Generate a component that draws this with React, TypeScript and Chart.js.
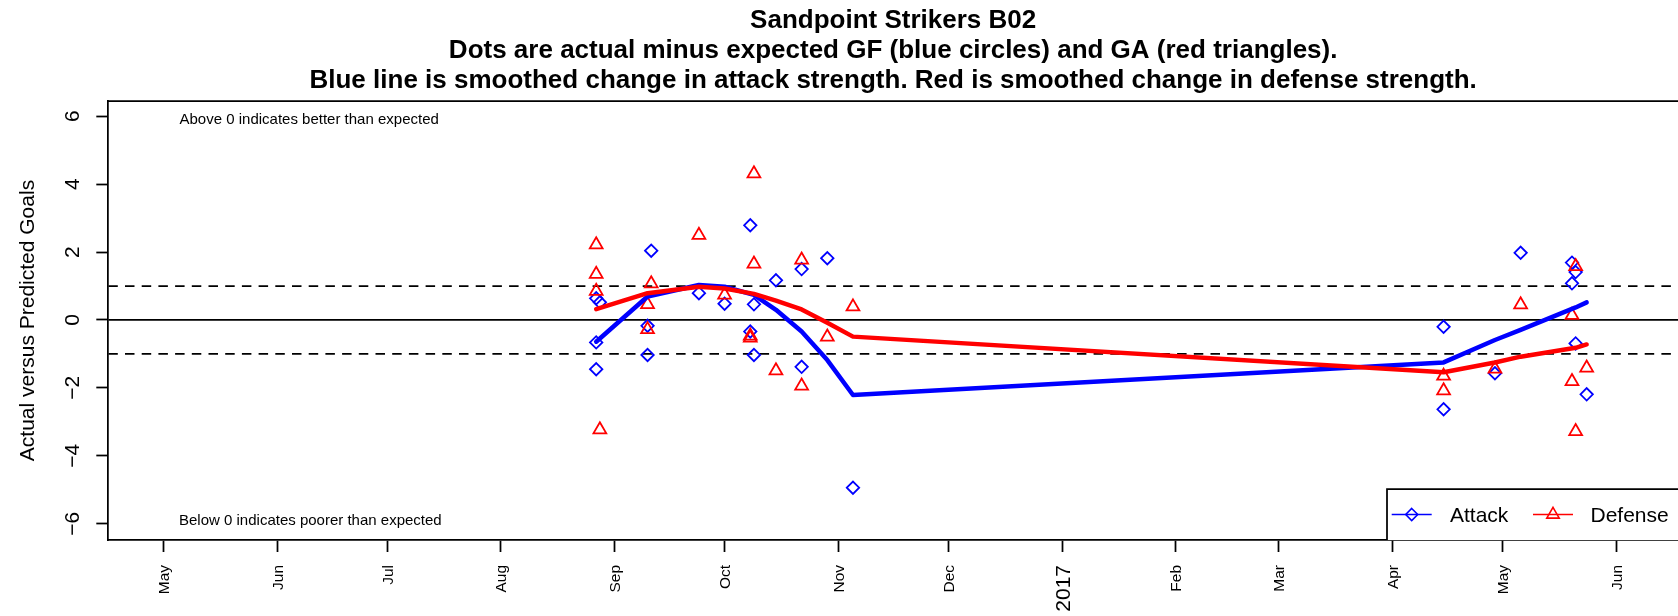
import React, { useEffect, useRef } from 'react';
import { Chart, registerables } from 'chart.js';

Chart.register(...registerables);

// ---------- data ----------
const ORIGIN = '2016-05-01';
const dayOf = (s: string) =>
  (Date.parse(s + 'T00:00:00Z') - Date.parse(ORIGIN + 'T00:00:00Z')) / 86400000;

const titleLines = [
  'Sandpoint Strikers B02',
  'Dots are actual minus expected GF (blue circles) and GA (red triangles).',
  'Blue line is smoothed change in attack strength. Red is smoothed change in defense strength.',
];
const yAxisTitle = 'Actual versus Predicted Goals';
const aboveNote = 'Above 0 indicates better than expected';
const belowNote = 'Below 0 indicates poorer than expected';
const legendLabels = ['Attack', 'Defense'];

const gameDates = [
  '2016-08-27', '2016-08-27', '2016-08-27', '2016-08-28',
  '2016-09-10', '2016-09-10', '2016-09-11', '2016-09-24',
  '2016-10-01', '2016-10-08', '2016-10-08', '2016-10-09',
  '2016-10-09', '2016-10-15', '2016-10-22', '2016-10-22',
  '2016-10-29', '2016-11-05',
  '2017-04-15', '2017-04-15', '2017-04-29', '2017-05-06',
  '2017-05-20', '2017-05-20', '2017-05-21', '2017-05-21',
  '2017-05-24',
];
const attackDiff = [
  0.64, -0.66, -1.45, 0.52,
  -0.17, -1.03, 2.04, 0.79,
  0.48, 2.79, -0.34, 0.46,
  -1.03, 1.17, 1.5, -1.38,
  1.82, -4.94,
  -0.2, -2.63, -1.57, 1.98,
  1.69, 1.08, 1.41, -0.69,
  -2.19,
];
const defenseDiff = [
  2.22, 1.35, 0.85, -3.23,
  0.46, -0.28, 1.07, 2.5,
  0.74, -0.47, -0.53, 4.31,
  1.65, -1.49, 1.77, -1.94,
  -0.5, 0.39,
  -1.65, -2.08, -1.44, 0.45,
  0.14, -1.81, 1.58, -3.28,
  -1.41,
];

const smoothDates = [
  '2016-08-27', '2016-09-10', '2016-09-24', '2016-10-01', '2016-10-09',
  '2016-10-15', '2016-10-22', '2016-10-29', '2016-11-05',
  '2017-04-15', '2017-04-29', '2017-05-06', '2017-05-21', '2017-05-24',
];
const attackSmooth = [-0.64, 0.69, 1.03, 0.98, 0.74, 0.3, -0.34, -1.18, -2.21, -1.25, -0.59, -0.29, 0.37, 0.52];
const defenseSmooth = [0.32, 0.79, 0.98, 0.93, 0.77, 0.57, 0.31, -0.08, -0.49, -1.54, -1.25, -1.08, -0.82, -0.72];

const monthTickDates = [
  '2016-05-01', '2016-06-01', '2016-07-01', '2016-08-01', '2016-09-01',
  '2016-10-01', '2016-11-01', '2016-12-01', '2017-01-01', '2017-02-01',
  '2017-03-01', '2017-04-01', '2017-05-01', '2017-06-01',
];
const monthTickLabels = ['May', 'Jun', 'Jul', 'Aug', 'Sep', 'Oct', 'Nov', 'Dec', '2017', 'Feb', 'Mar', 'Apr', 'May', 'Jun'];
const yTickValues = [-6, -4, -2, 0, 2, 4, 6];
const yTickLabels = ['\u22126', '\u22124', '\u22122', '0', '2', '4', '6'];
const refLevels = [-1, 0, 1];

// ---------- layout / style ----------
const X_MIN = -15;
const X_MAX = 412.9;
const Y_MIN = -6.48;
const Y_MAX = 6.45;
const FONT = '"Liberation Sans", Arial, Helvetica, sans-serif';
const BLUE = '#0000FF';
const RED = '#FF0000';
const LW = 1.75;

function diamond(ctx: CanvasRenderingContext2D, x: number, y: number, r: number) {
  ctx.beginPath();
  ctx.moveTo(x, y - r);
  ctx.lineTo(x + r, y);
  ctx.lineTo(x, y + r);
  ctx.lineTo(x - r, y);
  ctx.closePath();
  ctx.stroke();
}
function triangle(ctx: CanvasRenderingContext2D, x: number, y: number, r: number) {
  ctx.beginPath();
  ctx.moveTo(x, y - r);
  ctx.lineTo(x + r * Math.sin((2 * Math.PI) / 3), y + r / 2);
  ctx.lineTo(x - r * Math.sin((2 * Math.PI) / 3), y + r / 2);
  ctx.closePath();
  ctx.stroke();
}

const decorPlugin = {
  id: 'decor',
  afterDraw(chart: any) {
    const { ctx, chartArea: ca, scales } = chart;
    const xs = scales.x;
    const ys = scales.y;
    ctx.save();
    ctx.strokeStyle = '#000';
    ctx.fillStyle = '#000';
    ctx.lineWidth = LW;
    // top border of box
    ctx.beginPath();
    ctx.moveTo(ca.left - LW / 2, ca.top);
    ctx.lineTo(ca.right + 2, ca.top);
    ctx.stroke();

    // titles
    ctx.font = `bold 26px ${FONT}`;
    ctx.textAlign = 'center';
    ctx.textBaseline = 'alphabetic';
    const cx = (ca.left + ca.right) / 2;
    const baselines = [28, 58, 88];
    titleLines.forEach((t, i) => ctx.fillText(t, cx, baselines[i]));

    // y-axis title
    ctx.save();
    ctx.font = `21px ${FONT}`;
    ctx.translate(34, (ca.top + ca.bottom) / 2);
    ctx.rotate(-Math.PI / 2);
    ctx.textAlign = 'center';
    ctx.fillText(yAxisTitle, 0, 0);
    ctx.restore();

    // y tick labels (rotated, like R las=0)
    ctx.font = `21px ${FONT}`;
    yTickValues.forEach((v, i) => {
      const py = ys.getPixelForValue(v);
      ctx.save();
      ctx.translate(79, py);
      ctx.rotate(-Math.PI / 2);
      ctx.textAlign = 'center';
      ctx.fillText(yTickLabels[i], 0, 0);
      ctx.restore();
    });

    // x tick labels (rotated, las=2)
    monthTickDates.forEach((d, i) => {
      const lab = monthTickLabels[i];
      const size = lab === '2017' ? 21 : 15.5;
      const px = xs.getPixelForValue(dayOf(d));
      ctx.save();
      ctx.font = `${size}px ${FONT}`;
      ctx.translate(px + 0.358 * size, ca.bottom + 25);
      ctx.rotate(-Math.PI / 2);
      ctx.textAlign = 'right';
      ctx.fillText(lab, 0, 0);
      ctx.restore();
    });

    // notes
    ctx.font = `15px ${FONT}`;
    ctx.textAlign = 'left';
    ctx.fillText(aboveNote, 179.5, ys.getPixelForValue(6) + 7.5);
    ctx.fillText(belowNote, 179, ys.getPixelForValue(-6) + 0.8);

    // legend
    const lx = 1387;
    const ly = 489;
    const lb = ca.bottom;
    const mid = (ly + lb) / 2;
    ctx.fillStyle = '#fff';
    ctx.fillRect(lx, ly, ca.right - lx + 5, lb - ly);
    ctx.strokeStyle = '#000';
    ctx.lineWidth = LW;
    ctx.beginPath();
    ctx.moveTo(lx, lb);
    ctx.lineTo(lx, ly);
    ctx.lineTo(ca.right + 5, ly);
    ctx.stroke();

    ctx.lineWidth = 1.6;
    ctx.strokeStyle = BLUE;
    ctx.beginPath();
    ctx.moveTo(1391.7, mid);
    ctx.lineTo(1431.7, mid);
    ctx.stroke();
    diamond(ctx, 1411.7, mid, 6);
    ctx.strokeStyle = RED;
    ctx.beginPath();
    ctx.moveTo(1533, mid);
    ctx.lineTo(1573, mid);
    ctx.stroke();
    triangle(ctx, 1553, mid, 7.2);

    ctx.fillStyle = '#000';
    ctx.font = `21px ${FONT}`;
    ctx.textAlign = 'left';
    ctx.fillText(legendLabels[0], 1450, mid + 7.5);
    ctx.fillText(legendLabels[1], 1590.5, mid + 7.5);

    ctx.restore();
  },
};

export default function App() {
  const ref = useRef<HTMLCanvasElement | null>(null);

  useEffect(() => {
    const canvas = ref.current;
    if (!canvas) return;

    const refSets = refLevels.map((lv) => ({
      label: 'ref' + lv,
      data: [
        { x: X_MIN, y: lv },
        { x: X_MAX, y: lv },
      ],
      showLine: true,
      borderColor: '#000',
      borderWidth: LW,
      borderDash: lv === 0 ? [] : [9.5, 7.2],
      pointRadius: 0,
      order: 10,
    }));

    const chart = new Chart(canvas, {
      type: 'scatter',
      data: {
        datasets: [
          ...refSets,
          {
            label: 'Attack points',
            data: gameDates.map((d, i) => ({ x: dayOf(d), y: attackDiff[i] })),
            pointStyle: 'rectRot',
            pointRadius: 6.2,
            pointBorderWidth: 1.8,
            pointBorderColor: BLUE,
            pointBackgroundColor: 'rgba(0,0,0,0)',
            borderColor: BLUE,
            backgroundColor: 'rgba(0,0,0,0)',
            order: 6,
          },
          {
            label: 'Defense points',
            data: gameDates.map((d, i) => ({ x: dayOf(d), y: defenseDiff[i] })),
            pointStyle: 'triangle',
            pointRadius: 7.4,
            pointBorderWidth: 1.8,
            pointBorderColor: RED,
            pointBackgroundColor: 'rgba(0,0,0,0)',
            borderColor: RED,
            backgroundColor: 'rgba(0,0,0,0)',
            order: 5,
          },
          {
            label: 'Attack',
            data: smoothDates.map((d, i) => ({ x: dayOf(d), y: attackSmooth[i] })),
            showLine: true,
            borderColor: BLUE,
            borderWidth: 4.5,
            borderCapStyle: 'round',
            borderJoinStyle: 'round',
            pointRadius: 0,
            tension: 0,
            order: 2,
          },
          {
            label: 'Defense',
            data: smoothDates.map((d, i) => ({ x: dayOf(d), y: defenseSmooth[i] })),
            showLine: true,
            borderColor: RED,
            borderWidth: 4.5,
            borderCapStyle: 'round',
            borderJoinStyle: 'round',
            pointRadius: 0,
            tension: 0,
            order: 1,
          },
        ] as any,
      },
      options: {
        animation: false,
        responsive: false,
        devicePixelRatio: 1,
        events: [],
        layout: { padding: { top: 101, left: 0, right: 0, bottom: 0 }, autoPadding: false },
        plugins: {
          legend: { display: false },
          title: { display: false },
          tooltip: { enabled: false },
        },
        scales: {
          x: {
            type: 'linear',
            position: 'bottom',
            min: X_MIN,
            max: X_MAX,
            afterBuildTicks: (s: any) => {
              s.ticks = monthTickDates.map((d) => ({ value: dayOf(d) }));
            },
            afterFit: (s: any) => {
              s.height = 76;
            },
            grid: {
              drawOnChartArea: false,
              drawTicks: true,
              tickLength: 12,
              tickWidth: LW,
              tickColor: '#000',
            },
            border: { display: true, color: '#000', width: LW },
            ticks: { display: false },
          },
          y: {
            type: 'linear',
            position: 'left',
            min: Y_MIN,
            max: Y_MAX,
            afterBuildTicks: (s: any) => {
              s.ticks = yTickValues.map((v) => ({ value: v }));
            },
            afterFit: (s: any) => {
              s.width = 108.3;
            },
            grid: {
              drawOnChartArea: false,
              drawTicks: true,
              tickLength: 12,
              tickWidth: LW,
              tickColor: '#000',
            },
            border: { display: true, color: '#000', width: LW },
            ticks: { display: false },
          },
        },
      } as any,
      plugins: [decorPlugin],
    });

    return () => chart.destroy();
  }, []);

  return (
    <div style={{ position: 'absolute', left: 0, top: 0, width: 1678, height: 616, background: '#fff' }}>
      <canvas ref={ref} width={1678} height={616} style={{ display: 'block', width: 1678, height: 616 }} />
    </div>
  );
}
